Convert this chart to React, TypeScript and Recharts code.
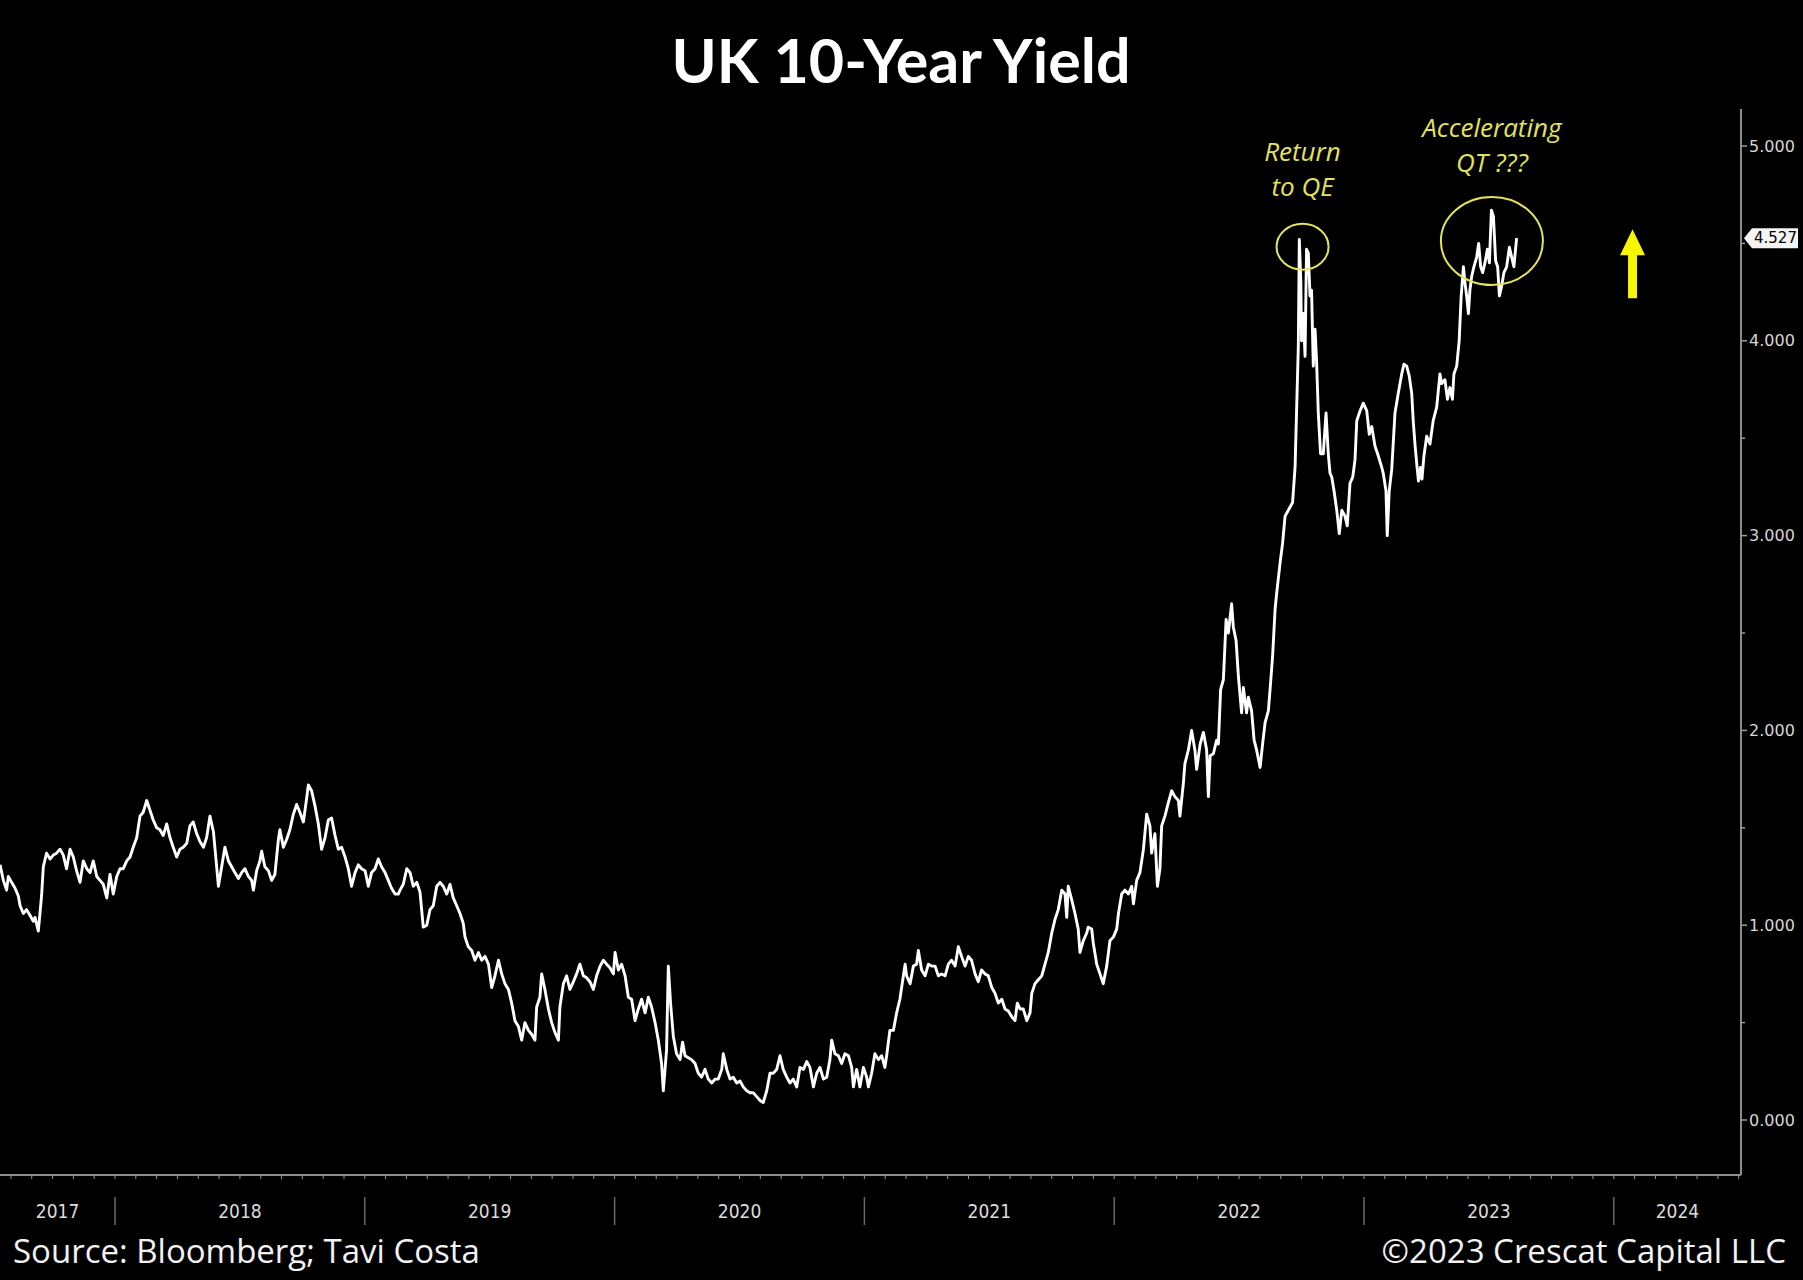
import React from 'react';
import { LineChart, Line, XAxis, YAxis, ReferenceDot } from 'recharts';

// UK 10y gilt yield, [decimal year, yield %]
const obs2017: [number, number][] = [
  [2017.540, 1.31], [2017.553, 1.23], [2017.566, 1.18], [2017.573, 1.25], [2017.586, 1.22], [2017.600, 1.19],
  [2017.613, 1.15], [2017.620, 1.10], [2017.633, 1.06], [2017.646, 1.08], [2017.660, 1.05], [2017.673, 1.02],
  [2017.680, 1.04], [2017.693, 0.97], [2017.706, 1.15], [2017.713, 1.30], [2017.726, 1.37], [2017.740, 1.34],
  [2017.753, 1.36], [2017.766, 1.37], [2017.780, 1.39], [2017.793, 1.36], [2017.806, 1.29], [2017.820, 1.39],
  [2017.833, 1.35], [2017.846, 1.28], [2017.860, 1.22], [2017.873, 1.33], [2017.887, 1.29], [2017.900, 1.27],
  [2017.913, 1.33], [2017.927, 1.25], [2017.940, 1.23], [2017.953, 1.21], [2017.967, 1.14], [2017.980, 1.26],
  [2017.993, 1.16],
];

const obs2018: [number, number][] = [
  [2018.007, 1.25], [2018.020, 1.29], [2018.033, 1.29], [2018.047, 1.33], [2018.060, 1.35], [2018.073, 1.40],
  [2018.087, 1.45], [2018.100, 1.56], [2018.113, 1.58], [2018.127, 1.64], [2018.140, 1.59], [2018.153, 1.54],
  [2018.167, 1.50], [2018.180, 1.49], [2018.193, 1.46], [2018.207, 1.52], [2018.220, 1.45], [2018.233, 1.40],
  [2018.247, 1.35], [2018.260, 1.39], [2018.273, 1.40], [2018.287, 1.42], [2018.300, 1.51], [2018.313, 1.53],
  [2018.327, 1.47], [2018.340, 1.43], [2018.354, 1.40], [2018.367, 1.45], [2018.380, 1.56], [2018.394, 1.48],
  [2018.407, 1.30], [2018.414, 1.20], [2018.427, 1.30], [2018.440, 1.40], [2018.454, 1.33], [2018.467, 1.30],
  [2018.480, 1.27], [2018.494, 1.24], [2018.507, 1.27], [2018.520, 1.29], [2018.534, 1.25], [2018.547, 1.23],
  [2018.554, 1.18], [2018.567, 1.28], [2018.580, 1.33], [2018.587, 1.38], [2018.600, 1.30], [2018.614, 1.28],
  [2018.627, 1.23], [2018.640, 1.26], [2018.654, 1.44], [2018.660, 1.49], [2018.674, 1.40], [2018.687, 1.44],
  [2018.700, 1.49], [2018.714, 1.57], [2018.727, 1.62], [2018.740, 1.58], [2018.754, 1.53], [2018.767, 1.65],
  [2018.774, 1.72], [2018.787, 1.69], [2018.801, 1.61], [2018.814, 1.52], [2018.827, 1.39], [2018.841, 1.45],
  [2018.854, 1.54], [2018.867, 1.55], [2018.881, 1.46], [2018.894, 1.39], [2018.907, 1.40], [2018.921, 1.35],
  [2018.934, 1.29], [2018.947, 1.20], [2018.961, 1.27], [2018.974, 1.31], [2018.987, 1.29],
];

const obs2019: [number, number][] = [
  [2019.001, 1.28], [2019.014, 1.20], [2019.027, 1.27], [2019.041, 1.29], [2019.054, 1.34], [2019.067, 1.30],
  [2019.081, 1.27], [2019.094, 1.23], [2019.107, 1.19], [2019.121, 1.16], [2019.134, 1.16], [2019.141, 1.18],
  [2019.154, 1.21], [2019.168, 1.29], [2019.181, 1.27], [2019.194, 1.20], [2019.208, 1.22], [2019.221, 1.17],
  [2019.234, 0.99], [2019.248, 1.00], [2019.261, 1.08], [2019.274, 1.10], [2019.288, 1.20], [2019.301, 1.22],
  [2019.314, 1.20], [2019.328, 1.16], [2019.341, 1.21], [2019.354, 1.14], [2019.368, 1.10], [2019.381, 1.06],
  [2019.394, 1.01], [2019.401, 0.94], [2019.414, 0.89], [2019.428, 0.87], [2019.441, 0.82], [2019.455, 0.86],
  [2019.468, 0.82], [2019.481, 0.84], [2019.495, 0.80], [2019.508, 0.68], [2019.521, 0.74], [2019.535, 0.82],
  [2019.548, 0.75], [2019.561, 0.70], [2019.575, 0.67], [2019.588, 0.60], [2019.601, 0.51], [2019.615, 0.48],
  [2019.628, 0.41], [2019.641, 0.50], [2019.655, 0.46], [2019.668, 0.44], [2019.681, 0.41], [2019.688, 0.58],
  [2019.701, 0.63], [2019.708, 0.75], [2019.721, 0.67], [2019.735, 0.57], [2019.748, 0.50], [2019.761, 0.45],
  [2019.775, 0.41], [2019.781, 0.58], [2019.795, 0.70], [2019.808, 0.74], [2019.821, 0.67], [2019.835, 0.71],
  [2019.848, 0.75], [2019.861, 0.80], [2019.875, 0.74], [2019.888, 0.73], [2019.901, 0.71], [2019.915, 0.67],
  [2019.928, 0.74], [2019.942, 0.79], [2019.955, 0.82], [2019.968, 0.80], [2019.982, 0.78], [2019.995, 0.75],
];

const obs2020: [number, number][] = [
  [2020.002, 0.86], [2020.015, 0.77], [2020.028, 0.80], [2020.042, 0.74], [2020.055, 0.63], [2020.068, 0.62],
  [2020.082, 0.51], [2020.095, 0.57], [2020.108, 0.62], [2020.122, 0.55], [2020.135, 0.63], [2020.148, 0.58],
  [2020.162, 0.50], [2020.175, 0.41], [2020.188, 0.29], [2020.195, 0.15], [2020.208, 0.36], [2020.215, 0.79],
  [2020.224, 0.60], [2020.235, 0.43], [2020.248, 0.34], [2020.262, 0.31], [2020.272, 0.40], [2020.282, 0.33],
  [2020.295, 0.32], [2020.308, 0.31], [2020.322, 0.29], [2020.335, 0.24], [2020.348, 0.22], [2020.362, 0.26],
  [2020.375, 0.21], [2020.389, 0.19], [2020.402, 0.21], [2020.415, 0.21], [2020.429, 0.26], [2020.435, 0.34],
  [2020.449, 0.26], [2020.462, 0.21], [2020.475, 0.22], [2020.489, 0.19], [2020.502, 0.20], [2020.515, 0.17],
  [2020.529, 0.15], [2020.542, 0.14], [2020.555, 0.14], [2020.569, 0.12], [2020.582, 0.10], [2020.595, 0.09],
  [2020.609, 0.15], [2020.622, 0.24], [2020.635, 0.24], [2020.649, 0.26], [2020.662, 0.33], [2020.675, 0.26],
  [2020.689, 0.22], [2020.702, 0.19], [2020.715, 0.21], [2020.729, 0.17], [2020.742, 0.27], [2020.756, 0.26],
  [2020.769, 0.30], [2020.782, 0.27], [2020.796, 0.17], [2020.809, 0.24], [2020.822, 0.27], [2020.836, 0.21],
  [2020.849, 0.22], [2020.862, 0.31], [2020.869, 0.41], [2020.882, 0.34], [2020.896, 0.33], [2020.909, 0.29],
  [2020.922, 0.34], [2020.936, 0.33], [2020.949, 0.27], [2020.956, 0.17], [2020.969, 0.26], [2020.982, 0.17],
  [2020.996, 0.27],
];

const obs2021: [number, number][] = [
  [2021.009, 0.22], [2021.016, 0.17], [2021.029, 0.24], [2021.042, 0.34], [2021.056, 0.31], [2021.069, 0.33],
  [2021.082, 0.27], [2021.089, 0.33], [2021.102, 0.46], [2021.116, 0.46], [2021.129, 0.55], [2021.142, 0.62],
  [2021.149, 0.68], [2021.163, 0.80], [2021.169, 0.74], [2021.183, 0.70], [2021.196, 0.79], [2021.209, 0.80],
  [2021.216, 0.87], [2021.229, 0.77], [2021.243, 0.74], [2021.256, 0.80], [2021.269, 0.79], [2021.283, 0.79],
  [2021.296, 0.74], [2021.309, 0.75], [2021.323, 0.74], [2021.336, 0.80], [2021.349, 0.82], [2021.363, 0.79],
  [2021.376, 0.89], [2021.389, 0.84], [2021.403, 0.79], [2021.416, 0.84], [2021.429, 0.82], [2021.443, 0.75],
  [2021.456, 0.71], [2021.469, 0.77], [2021.483, 0.75], [2021.496, 0.74], [2021.510, 0.68], [2021.523, 0.65],
  [2021.536, 0.60], [2021.550, 0.62], [2021.563, 0.57], [2021.576, 0.56], [2021.590, 0.53], [2021.603, 0.51],
  [2021.612, 0.60], [2021.623, 0.57], [2021.636, 0.57], [2021.650, 0.51], [2021.663, 0.55], [2021.670, 0.65],
  [2021.683, 0.70], [2021.696, 0.72], [2021.710, 0.74], [2021.723, 0.80], [2021.736, 0.86], [2021.750, 0.96],
  [2021.763, 1.03], [2021.776, 1.08], [2021.790, 1.18], [2021.803, 1.16], [2021.810, 1.04], [2021.816, 1.20],
  [2021.830, 1.13], [2021.843, 1.06], [2021.856, 0.98], [2021.863, 0.86], [2021.876, 0.92], [2021.890, 0.96],
  [2021.896, 0.99], [2021.910, 0.98], [2021.916, 0.91], [2021.930, 0.80], [2021.943, 0.75], [2021.956, 0.70],
  [2021.970, 0.79], [2021.983, 0.92], [2021.997, 0.94],
];

const obs2022: [number, number][] = [
  [2022.010, 0.98], [2022.017, 1.06], [2022.030, 1.16], [2022.043, 1.18], [2022.057, 1.16], [2022.070, 1.20],
  [2022.077, 1.11], [2022.090, 1.23], [2022.103, 1.27], [2022.117, 1.39], [2022.130, 1.57], [2022.143, 1.51],
  [2022.150, 1.37], [2022.163, 1.47], [2022.173, 1.20], [2022.183, 1.29], [2022.190, 1.51], [2022.203, 1.56],
  [2022.217, 1.63], [2022.230, 1.69], [2022.243, 1.66], [2022.257, 1.64], [2022.263, 1.56], [2022.277, 1.73],
  [2022.283, 1.83], [2022.297, 1.90], [2022.310, 2.00], [2022.323, 1.90], [2022.330, 1.80], [2022.344, 1.93],
  [2022.357, 1.99], [2022.370, 1.90], [2022.377, 1.66], [2022.384, 1.87], [2022.397, 1.88], [2022.410, 1.95],
  [2022.417, 1.93], [2022.426, 2.21], [2022.437, 2.26], [2022.448, 2.57], [2022.457, 2.50], [2022.470, 2.65],
  [2022.477, 2.53], [2022.488, 2.46], [2022.497, 2.28], [2022.510, 2.09], [2022.517, 2.22], [2022.530, 2.09],
  [2022.537, 2.17], [2022.550, 2.10], [2022.560, 1.95], [2022.570, 1.90], [2022.584, 1.81], [2022.594, 1.93],
  [2022.604, 2.04], [2022.617, 2.10], [2022.624, 2.21], [2022.634, 2.38], [2022.644, 2.62], [2022.650, 2.70],
  [2022.664, 2.86], [2022.674, 2.96], [2022.684, 3.10], [2022.697, 3.13], [2022.714, 3.17], [2022.724, 3.35],
  [2022.737, 3.97], [2022.741, 4.52], [2022.747, 4.31], [2022.750, 4.00], [2022.757, 4.14], [2022.764, 3.92],
  [2022.770, 4.47], [2022.777, 4.45], [2022.784, 4.23], [2022.790, 4.26], [2022.797, 3.87], [2022.804, 4.06],
  [2022.810, 3.90], [2022.817, 3.63], [2022.826, 3.42], [2022.837, 3.42], [2022.848, 3.63], [2022.857, 3.42],
  [2022.864, 3.32], [2022.871, 3.30], [2022.880, 3.23], [2022.891, 3.13], [2022.901, 3.01], [2022.911, 3.13],
  [2022.924, 3.10], [2022.933, 3.05], [2022.944, 3.27], [2022.955, 3.30], [2022.964, 3.39], [2022.971, 3.59],
  [2022.984, 3.64], [2022.997, 3.68],
];

const obs2023: [number, number][] = [
  [2023.011, 3.64], [2023.021, 3.52], [2023.031, 3.56], [2023.044, 3.46], [2023.057, 3.41], [2023.071, 3.35],
  [2023.077, 3.32], [2023.088, 3.23], [2023.093, 3.00], [2023.101, 3.23], [2023.111, 3.34], [2023.124, 3.63],
  [2023.137, 3.73], [2023.151, 3.83], [2023.160, 3.88], [2023.171, 3.87], [2023.181, 3.82], [2023.191, 3.73],
  [2023.197, 3.59], [2023.204, 3.47], [2023.211, 3.37], [2023.218, 3.28], [2023.226, 3.35], [2023.232, 3.29],
  [2023.240, 3.41], [2023.251, 3.51], [2023.264, 3.47], [2023.277, 3.59], [2023.291, 3.66], [2023.304, 3.83],
  [2023.311, 3.78], [2023.324, 3.80], [2023.334, 3.70], [2023.344, 3.76], [2023.354, 3.70], [2023.360, 3.83],
  [2023.371, 3.87], [2023.381, 4.00], [2023.389, 4.23], [2023.398, 4.38], [2023.404, 4.30], [2023.411, 4.23],
  [2023.418, 4.14], [2023.424, 4.26], [2023.431, 4.33], [2023.440, 4.38], [2023.451, 4.43], [2023.459, 4.50],
  [2023.467, 4.38], [2023.475, 4.35], [2023.484, 4.40], [2023.494, 4.47], [2023.502, 4.40], [2023.510, 4.67],
  [2023.518, 4.64], [2023.527, 4.41], [2023.535, 4.38], [2023.542, 4.23], [2023.551, 4.28], [2023.560, 4.35],
  [2023.571, 4.38], [2023.582, 4.48], [2023.591, 4.43], [2023.600, 4.38], [2023.611, 4.527],
];

const yieldTicks = [0, 0.5, 1, 1.5, 2, 2.5, 3, 3.5, 4, 4.5, 5];
const yearLabels = [2017, 2018, 2019, 2020, 2021, 2022, 2023, 2024];

// annotations: [decimal year, yield]
const returnToQE = { t: 2022.754, y: 4.483, textY: 4.923 };
const acceleratingQT = { t: 2023.512, y: 4.512, textY: 5.046 };
const arrowBase = { t: 2024.075, y: 4.218 };

const X_MIN = 2017.5396;
const X_MAX = 2024.5092;
const Y_MIN = -0.2823;
const Y_MAX = 5.19;

const YELLOW = '#e3e35c';

const series = [...obs2017, ...obs2018, ...obs2019, ...obs2020, ...obs2021, ...obs2022, ...obs2023].map(
  ([t, y]) => ({ t, y })
);
const last = series[series.length - 1];

const monthTicks: number[] = [];
for (const yr of yearLabels) {
  for (let m = 0; m < 12; m++) {
    const v = yr + m / 12;
    if (v >= X_MIN && v <= X_MAX) monthTicks.push(v);
  }
}
// year labels sit in the middle of the visible part of each year
const labelTicks = yearLabels.map((yr) => (Math.max(yr, X_MIN) + Math.min(yr + 1, X_MAX)) / 2 + 1e-4);

function TimeTick({ x, y, payload }: any) {
  const v = payload.value;
  if (labelTicks.includes(v)) {
    return (
      <text x={x} y={y + 43} textAnchor="middle" fill="#dcdcdc" fontSize={19}
        fontFamily="'Liberation Sans Narrow', 'DejaVu Sans Condensed', sans-serif">
        {Math.floor(v)}
      </text>
    );
  }
  const jan = Math.abs(v - Math.round(v)) < 1e-6;
  return (
    <g>
      <line x1={x} x2={x} y1={y} y2={y + 4} stroke="#9a9a9a" strokeWidth={1} />
      {jan && <line x1={x} x2={x} y1={y + 22} y2={y + 50} stroke="#6a6a6a" strokeWidth={1.5} />}
    </g>
  );
}

function YieldTick({ x, y, payload }: any) {
  const v = payload.value;
  const major = Number.isInteger(v);
  return (
    <g>
      <line x1={x} x2={x + (major ? 6 : 4)} y1={y} y2={y} stroke="#9a9a9a" strokeWidth={1.5} />
      {major && (
        <text x={x + 8} y={y + 5.5} fill="#d6d6d6" fontSize={16} fontFamily="'DejaVu Sans', sans-serif">
          {v.toFixed(3)}
        </text>
      )}
    </g>
  );
}

function LastValueTag({ cx, cy }: any) {
  return (
    <g>
      <polygon
        points={`${cx + 3},${cy} ${cx + 11},${cy - 10} ${cx + 57},${cy - 10} ${cx + 57},${cy + 10} ${cx + 11},${cy + 10}`}
        fill="#f4f4f4"
      />
      <text x={cx + 13} y={cy + 5} fill="#000" fontSize={15} fontFamily="'DejaVu Sans', sans-serif">
        {last.y.toFixed(3)}
      </text>
    </g>
  );
}

const italic = { fontFamily: "'Open Sans', sans-serif", fontStyle: 'italic' as const, fontSize: 26 };

function NoteText(lines: string[]) {
  return ({ cx, cy }: any) => (
    <g>
      {lines.map((s, i) => (
        <text key={s} x={cx} y={cy + i * 35} textAnchor="middle" fill={YELLOW} style={italic}>
          {s}
        </text>
      ))}
    </g>
  );
}

function Ring(rx: number, ry: number) {
  return ({ cx, cy }: any) => (
    <ellipse cx={cx} cy={cy} rx={rx} ry={ry} fill="none" stroke={YELLOW} strokeWidth={2} />
  );
}

function UpArrow({ cx, cy }: any) {
  const top = cy - 69;
  return (
    <polygon
      points={`${cx - 4.5},${cy} ${cx - 4.5},${top + 26} ${cx - 12.5},${top + 26} ${cx},${top} ${cx + 12.5},${top + 26} ${cx + 4.5},${top + 26} ${cx + 4.5},${cy}`}
      fill="#f6f600"
    />
  );
}

export default function App() {
  return (
    <div style={{ position: 'relative', width: 1803, height: 1280, background: '#000', overflow: 'hidden' }}>
      <style>{'html,body{margin:0;padding:0;background:#000;overflow:hidden}'}</style>
      <LineChart
        width={1803}
        height={1280}
        data={series}
        margin={{ top: 109, right: 0, bottom: 0, left: 0 }}
        style={{ position: 'absolute', left: 0, top: 0 }}
      >
        <XAxis
          dataKey="t"
          type="number"
          domain={[X_MIN, X_MAX]}
          allowDataOverflow
          ticks={[...monthTicks, ...labelTicks]}
          interval={0}
          tick={<TimeTick />}
          tickLine={false}
          tickSize={0}
          tickMargin={0}
          height={105}
          axisLine={{ stroke: '#bdbdbd', strokeWidth: 1.5 }}
        />
        <YAxis
          orientation="right"
          type="number"
          domain={[Y_MIN, Y_MAX]}
          allowDataOverflow
          ticks={yieldTicks}
          interval={0}
          tick={<YieldTick />}
          tickLine={false}
          tickSize={0}
          tickMargin={0}
          width={62}
          axisLine={{ stroke: '#8c8c8c', strokeWidth: 2 }}
        />
        <Line
          type="linear"
          dataKey="y"
          stroke="#ffffff"
          strokeWidth={2.9}
          strokeLinejoin="round"
          dot={false}
          isAnimationActive={false}
        />
        <ReferenceDot x={returnToQE.t} y={returnToQE.y} ifOverflow="visible" shape={Ring(26, 23)} />
        <ReferenceDot x={acceleratingQT.t} y={acceleratingQT.y} ifOverflow="visible" shape={Ring(51, 44)} />
        <ReferenceDot x={returnToQE.t} y={returnToQE.textY} ifOverflow="visible" shape={NoteText(['Return', 'to QE'])} />
        <ReferenceDot
          x={acceleratingQT.t}
          y={acceleratingQT.textY}
          ifOverflow="visible"
          shape={NoteText(['Accelerating', 'QT ???'])}
        />
        <ReferenceDot x={arrowBase.t} y={arrowBase.y} ifOverflow="visible" shape={UpArrow} />
        <ReferenceDot x={X_MAX} y={last.y} ifOverflow="visible" shape={LastValueTag} />
      </LineChart>
      <svg width={1803} height={1280} style={{ position: 'absolute', left: 0, top: 0, pointerEvents: 'none' }}>
        <text x={901} y={83} textAnchor="middle" fill="#fff" fontSize={61} fontWeight={700}
          fontFamily="Lato, 'Open Sans', sans-serif">
          UK 10-Year Yield
        </text>
        <text x={13} y={1263} fill="#f2f2f2" fontSize={33} fontFamily="'Open Sans', sans-serif">
          Source: Bloomberg; Tavi Costa
        </text>
        <text x={1786} y={1263} textAnchor="end" fill="#f2f2f2" fontSize={33} fontFamily="'Open Sans', sans-serif">
          ©2023 Crescat Capital LLC
        </text>
      </svg>
    </div>
  );
}
